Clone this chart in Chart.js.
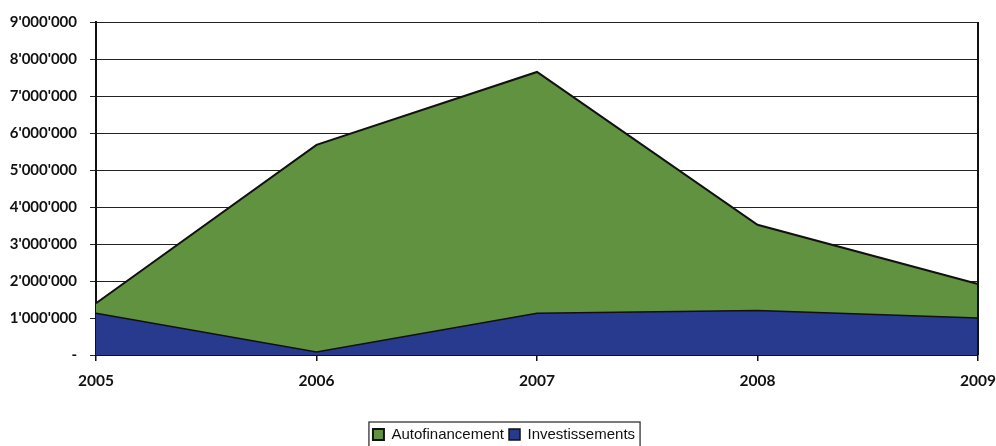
<!DOCTYPE html>
<html>
<head>
<meta charset="utf-8">
<script src="https://cdn.jsdelivr.net/npm/chart.js@4/dist/chart.umd.min.js"></script>
<style>
  html, body { margin: 0; padding: 0; background: #fff; }
  #wrap { width: 996px; height: 446px; }
</style>
</head>
<body>
<div id="wrap"><canvas id="chart" width="996" height="446"></canvas></div>
<script>
// valeurs
const years = ['2005', '2006', '2007', '2008', '2009'];
const autofinancement = [1400000, 5680000, 7650000, 3520000, 1920000];
const investissements = [1130000, 80000, 1130000, 1200000, 1000000];
const yTicks = [0, 1000000, 2000000, 3000000, 4000000, 5000000, 6000000, 7000000, 8000000, 9000000];

function fmt(v) {
  if (v === 0) return '-';
  return String(v).replace(/\B(?=(\d{3})+(?!\d))/g, "'");
}

const LEGEND_SHIFT = 15;

// cadre du graphique + cadre de la légende
const frame = {
  id: 'frame',
  beforeDraw(chart) {
    // la légende est un peu décalée vers la droite
    const lg = chart.legend;
    if (!lg._shifted) {
      lg.left += LEGEND_SHIFT;
      lg.right += LEGEND_SHIFT;
      (lg.legendHitBoxes || []).forEach(b => { b.left += LEGEND_SHIFT; });
      lg._shifted = true;
    }
  },
  afterDraw(chart) {
    const ctx = chart.ctx;
    const a = chart.chartArea;
    ctx.save();
    ctx.strokeStyle = '#111';
    ctx.lineWidth = 2;
    ctx.beginPath();
    ctx.moveTo(a.right, a.top);
    ctx.lineTo(a.right, a.bottom);
    ctx.stroke();

    const boxes = chart.legend.legendHitBoxes;
    if (boxes && boxes.length) {
      const l = boxes[0].left - 4;
      const r = boxes[boxes.length - 1].left + boxes[boxes.length - 1].width + 5;
      const t = boxes[0].top - 5;
      ctx.lineWidth = 1.2;
      ctx.strokeStyle = '#222';
      ctx.strokeRect(l, t, r - l, 40);
    }
    ctx.restore();
  }
};

const ctx = document.getElementById('chart').getContext('2d');
new Chart(ctx, {
  type: 'line',
  data: {
    labels: years,
    datasets: [{
      label: 'Autofinancement',
      data: autofinancement,
      backgroundColor: 'rgb(96,146,64)',
      borderColor: '#111',
      borderWidth: 2,
      fill: 'origin',
      pointRadius: 0,
      tension: 0,
      order: 2
    }, {
      label: 'Investissements',
      data: investissements,
      backgroundColor: 'rgb(40,58,142)',
      borderColor: '#111',
      borderWidth: 1.5,
      fill: 'origin',
      pointRadius: 0,
      tension: 0,
      order: 1
    }]
  },
  options: {
    responsive: false,
    animation: false,
    layout: { padding: { left: 0, right: 18, top: 22, bottom: -6 } },
    scales: {
      x: {
        offset: false,
        afterFit(scale) { scale.height = 67; scale.paddingLeft = 0; scale.paddingRight = 0; },
        grid: { drawOnChartArea: false, drawTicks: true, tickLength: 6, color: '#111', lineWidth: 1.5 },
        border: { color: '#111', width: 2 },
        ticks: {
          color: '#111',
          padding: 11,
          maxRotation: 0,
          font: { family: 'Lato', weight: 'bold', size: 15.5 }
        }
      },
      y: {
        min: 0,
        max: 9000000,
        afterFit(scale) { scale.width = 96; },
        afterBuildTicks(scale) { scale.ticks = yTicks.map(v => ({ value: v })); },
        grid: { color: '#222', lineWidth: 1, tickLength: 6 },
        border: { color: '#111', width: 2 },
        ticks: {
          color: '#111',
          padding: 13,
          font: { family: 'Lato', weight: 'bold', size: 15 },
          callback: v => fmt(v)
        }
      }
    },
    plugins: {
      legend: {
        position: 'bottom',
        labels: {
          boxWidth: 11,
          boxHeight: 11,
          padding: 5,
          color: '#111',
          font: { family: 'Liberation Sans', size: 15 },
          sort: (a, b) => a.datasetIndex - b.datasetIndex
        }
      },
      tooltip: { enabled: false }
    }
  },
  plugins: [frame]
});
</script>
</body>
</html>
